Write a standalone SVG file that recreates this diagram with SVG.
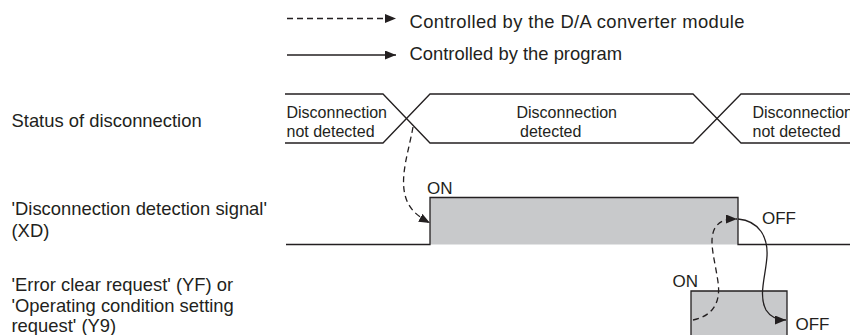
<svg xmlns="http://www.w3.org/2000/svg" width="850" height="335" viewBox="0 0 850 335">
<style>
text{font-family:"Liberation Sans",Arial,sans-serif;fill:#231f20}
.lbl{font-size:18.4px}
.st{font-size:16px}
.sm{font-size:17px}
.ln{fill:none;stroke:#231f20;stroke-width:1.3}
.ds{fill:none;stroke:#231f20;stroke-width:1.3;stroke-dasharray:6 4}
.pulse{fill:#c8c9cb;stroke:#231f20;stroke-width:1.3}
</style>
<defs>
<marker id="ah" markerUnits="userSpaceOnUse" markerWidth="12" markerHeight="9" refX="11" refY="4.5" orient="auto">
<path d="M0,0 L11,4.5 L0,9 z" fill="#231f20"/>
</marker>
</defs>
<rect width="850" height="335" fill="#fff"/>
<g id="legend">
<line class="ds" x1="287" y1="18.5" x2="396" y2="18.5" stroke-dasharray="7 5" marker-end="url(#ah)"/>
<text class="lbl" x="409.5" y="28" textLength="335">Controlled by the D/A converter module</text>
<line class="ln" x1="287" y1="55" x2="396" y2="55" marker-end="url(#ah)"/>
<text class="lbl" x="409.5" y="60">Controlled by the program</text>
</g>
<g id="labels">
<text class="lbl" x="11.5" y="127">Status of disconnection</text>
<text class="lbl" x="11.5" y="215">'Disconnection detection signal'</text>
<text class="lbl" x="11.5" y="236.5">(XD)</text>
<text class="lbl" x="11.5" y="290.5">'Error clear request' (YF) or</text>
<text class="lbl" x="11.5" y="311.5">'Operating condition setting</text>
<text class="lbl" x="11.5" y="332">request' (Y9)</text>
</g>
<g id="status">
<path class="ln" d="M285,94 H383 L430,143 H693 L741,94 H850"/>
<path class="ln" d="M285,143 H383 L430,94 H693 L741,143 H850"/>
<text class="st" x="286.5" y="117.5">Disconnection</text>
<text class="st" x="286.5" y="136.5">not detected</text>
<text class="st" x="516.5" y="117.5">Disconnection</text>
<text class="st" x="520" y="136.5">detected</text>
<text class="st" x="752.5" y="117.5">Disconnection</text>
<text class="st" x="752.5" y="136.5">not detected</text>
</g>
<g id="xd">
<rect x="430" y="197.5" width="308" height="47" fill="#c8c9cb"/>
<path class="ln" d="M286,244.5 H430 V197.5 H738 V244.5 H850"/>
<text class="sm" x="427" y="193.5">ON</text>
<text class="sm" x="762" y="224">OFF</text>
</g>
<g id="yf">
<path class="pulse" d="M691,336 V291 H787 V336"/>
<text class="sm" x="672.5" y="287">ON</text>
<text class="sm" x="795.5" y="330">OFF</text>
</g>
<g id="connectors">
<path class="ds" d="M413,127 C409,150 400,175 405,195 C408,207 415,215 430,223" marker-end="url(#ah)"/>
<path class="ds" d="M693,320 C713,316 721,302 718,282 C715,260 708,240 715,228 C720,220 727,219 737,219" marker-end="url(#ah)"/>
<path class="ln" d="M738,219 C760,221 768,238 767,256 C766,275 758,295 766,310 C771,318 778,320 786,320" marker-end="url(#ah)"/>
</g>
</svg>
